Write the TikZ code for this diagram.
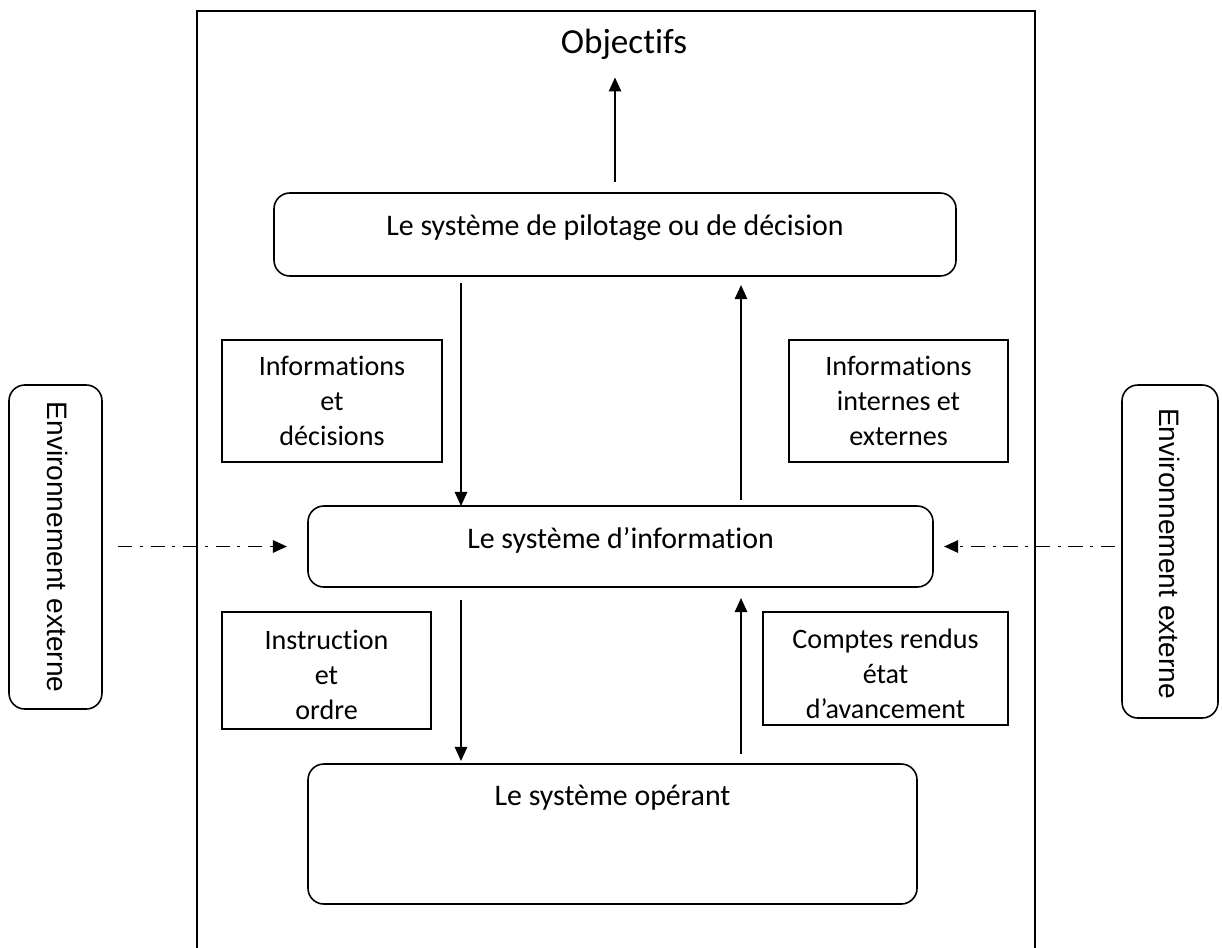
\documentclass[tikz,border=0pt]{standalone}
\usepackage{fontspec}
\setmainfont{Carlito}[Ligatures={NoCommon}]
\newfontfamily\envfont{Liberation Sans}
\usetikzlibrary{arrows.meta,calc}
\begin{document}
\begin{tikzpicture}[x=0.02cm,y=-0.02cm,
  every node/.style={inner sep=0pt,outer sep=0pt},
  sz/.style 2 args={minimum width=#1*0.02cm,minimum height=#2*0.02cm},
  rbox/.style={draw,line width=0.9pt,rounded corners=9pt,anchor=north west},
  sbox/.style={draw,line width=0.9pt,anchor=north west},
  lbl/.style={font=\fontsize{16}{20}\selectfont,align=center,anchor=north},
  big/.style={font=\fontsize{17}{21}\selectfont,anchor=north},
  envtxt/.style={font=\envfont\fontsize{16}{19}\selectfont,rotate=-90},
  arr/.style={line width=1.1pt,-{Triangle[width=7pt,length=8pt]}},
  dd/.style={arr,dash pattern=on 8pt off 4.5pt on 1.5pt off 4.5pt}]
\useasboundingbox (0,0) rectangle (1222,947);

% outer frame (runs past the bottom edge)
\draw[line width=0.9pt] (197,11) rectangle (1035,980);

% title
\node[font=\fontsize{20}{24}\selectfont,anchor=north] (obj) at (624,29) {Objectifs};

% the three systems
\node[rbox,sz={682}{83}] (pil) at (274,193) {};
\node[big] (tpil) at ($(pil.north)+(0,22)$) {Le système de pilotage ou de décision};

\node[rbox,sz={625}{81}] (si) at (308,506) {};
\node[big] (tsi) at ($(si.north)+(0,21)$) {Le système d’information};

\node[rbox,sz={609}{140}] (op) at (308,764) {};
\node[big] (top) at ($(op.north)+(0,21)$) {Le système opérant};

% flow labels
\node[sbox,sz={220}{122}] (b1) at (222,340) {};
\node[lbl] at ($(b1.north)+(0,16)$) {Informations\\et\\décisions};

\node[sbox,sz={219}{122}] (b2) at (789,340) {};
\node[lbl] at ($(b2.north)+(0,16)$) {Informations\\internes et\\externes};

\node[sbox,sz={209}{117}] (b3) at (222,612) {};
\node[lbl] at ($(b3.north)+(0,18)$) {Instruction\\et\\ordre};

\node[sbox,sz={245}{113}] (b4) at (763,612) {};
\node[lbl] at ($(b4.north)+(0,17)$) {Comptes rendus\\état\\d’avancement};

% environment boxes
\node[rbox,sz={93}{324}] (envL) at (9,385) {};
\node[envtxt] at ($(envL.center)+(2,0)$) {Environnement externe};
\node[rbox,sz={96}{333}] (envR) at (1122,385) {};
\node[envtxt] at ($(envR.center)+(0,2)$) {Environnement externe};

% vertical flows
\coordinate (cl) at (461,0);
\coordinate (cr) at (741,0);
\draw[arr,shorten <=0.22cm,shorten >=0.36cm] (pil.north) -- (pil.north |- obj.south);
\draw[arr,shorten <=0.14cm] (pil.south -| cl) -- (si.north -| cl);
\draw[arr,shorten <=0.12cm,shorten >=0.18cm] (si.north -| cr) -- (pil.south -| cr);
\draw[arr,shorten <=0.26cm,shorten >=0.06cm] (si.south -| cl) -- (op.north -| cl);
\draw[arr,shorten <=0.2cm,shorten >=0.22cm] (op.north -| cr) -- (si.south -| cr);

% environment exchanges
\draw[dd,shorten <=0.32cm,shorten >=0.42cm] (envL.east |- si.west) -- (si.west);
\draw[dd,shorten <=0.14cm,shorten >=0.22cm] (envR.west |- si.east) -- (si.east);
\end{tikzpicture}
\end{document}
